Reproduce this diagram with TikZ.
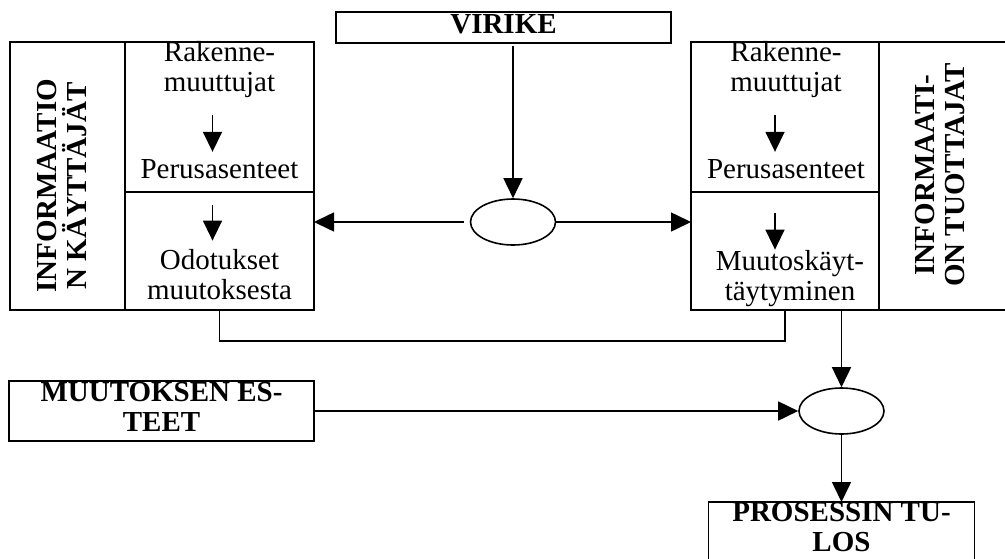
\documentclass[tikz,border=0pt]{standalone}
\usepackage{fontspec}
\setmainfont{Liberation Serif}
\usetikzlibrary{positioning, arrows.meta, shapes.geometric}
\tikzset{
    cell/.style={draw, rectangle, line width=1.6pt, inner sep=0pt, outer sep=0pt},
    txt/.style={align=center, inner sep=0pt, font=\fontsize{29}{30}\selectfont},
    heading/.style={align=center, inner sep=0pt, font=\bfseries\fontsize{29}{30}\selectfont},
    arr/.style={-{Triangle[length=20pt, width=19pt]}, line width=1.6pt},
    junction/.style={draw, ellipse, line width=1.6pt, minimum width=85pt, minimum height=46pt, inner sep=0pt},
}

\begin{document}
\begin{tikzpicture}[x=1pt, y=-1pt]
    \useasboundingbox (0,0) rectangle (1005,558);

    \node[cell, anchor=north west, minimum width=115pt, minimum height=268pt] (users) at (10,42) {};
    \node[cell, minimum width=189pt, minimum height=150pt, below right=0pt and 0pt of users.north east] (userA) {};
    \node[cell, minimum width=189pt, minimum height=118pt, below=0pt of userA] (userB) {};

    \node[cell, anchor=north west, minimum width=188pt, minimum height=150pt] (prodA) at (691,42) {};
    \node[cell, minimum width=188pt, minimum height=118pt, below=0pt of prodA] (prodB) {};
    \node[cell, minimum width=130pt, minimum height=268pt, below right=0pt and 0pt of prodA.north east] (producers) {};

    \node[heading, rotate=90] (usersname) at (62,186) {INFORMAATIO\\N KÄYTTÄJÄT};
    \node[heading, rotate=90] (prodname) at (940,175) {INFORMAATI-\\ON TUOTTAJAT};

    \node[txt] (lstruct) at (219.5,70) {Rakenne-\\muuttujat};
    \node[txt, anchor=base] (lattit) at (219.5,178) {Perusasenteet};
    \node[txt] (lexpect) at (219.5,275) {Odotukset\\muutoksesta};

    \node[txt] (rstruct) at (786,70) {Rakenne-\\muuttujat};
    \node[txt, anchor=base] (rattit) at (786,178) {Perusasenteet};
    \node[txt] (rbehav) at (790,279) {Muutoskäyt-\\täytyminen};

    \draw[arr, shorten <=17pt, shorten >=7pt] ([xshift=-7pt]lstruct.south) -- ([xshift=-7pt]lattit.north);
    \draw[arr, shorten >=9pt] ([xshift=-7pt, yshift=-13pt]userB.north) -- ([xshift=-7pt]lexpect.north);
    \draw[arr, shorten <=17pt, shorten >=7pt] ([xshift=-11pt]rstruct.south) -- ([xshift=-11pt]rattit.north);
    \draw[arr, shorten >=1pt] ([xshift=-10pt, yshift=-21pt]prodB.north) -- ([xshift=-10pt]prodB.north |- rbehav.north);

    \node[cell, heading, minimum width=335pt, minimum height=31pt, text depth=7pt] (stimulus) at (503.5,27.5) {VIRIKE};
    \node[junction] (meet) at (513,222) {};

    \draw[arr, shorten <=3pt] (stimulus.south -| meet) -- (meet.north);
    \draw[arr, shorten <=6pt] (meet.west) -- (meet -| userB.east);
    \draw[arr] (meet.east) -- (meet -| prodB.west);

    \draw[line width=1.6pt] (userB.south) -- ++(0,31) -| (prodB.south);

    \node[junction] (result) at (841.5,411) {};
    \draw[arr] (result |- prodB.south) -- (result.north);

    \node[cell, heading, minimum width=305pt, minimum height=60pt, text depth=9pt] (barriers) at (161.5,411) {MUUTOKSEN ES-\\TEET};
    \draw[arr] (barriers.east) -- (result.west);

    \node[cell, heading, anchor=north, minimum width=266pt, minimum height=76pt, text depth=26pt] (outcome) at (841.5,502) {PROSESSIN TU-\\LOS};
    \draw[arr] (result.south) -- (outcome.north);
\end{tikzpicture}
\end{document}
